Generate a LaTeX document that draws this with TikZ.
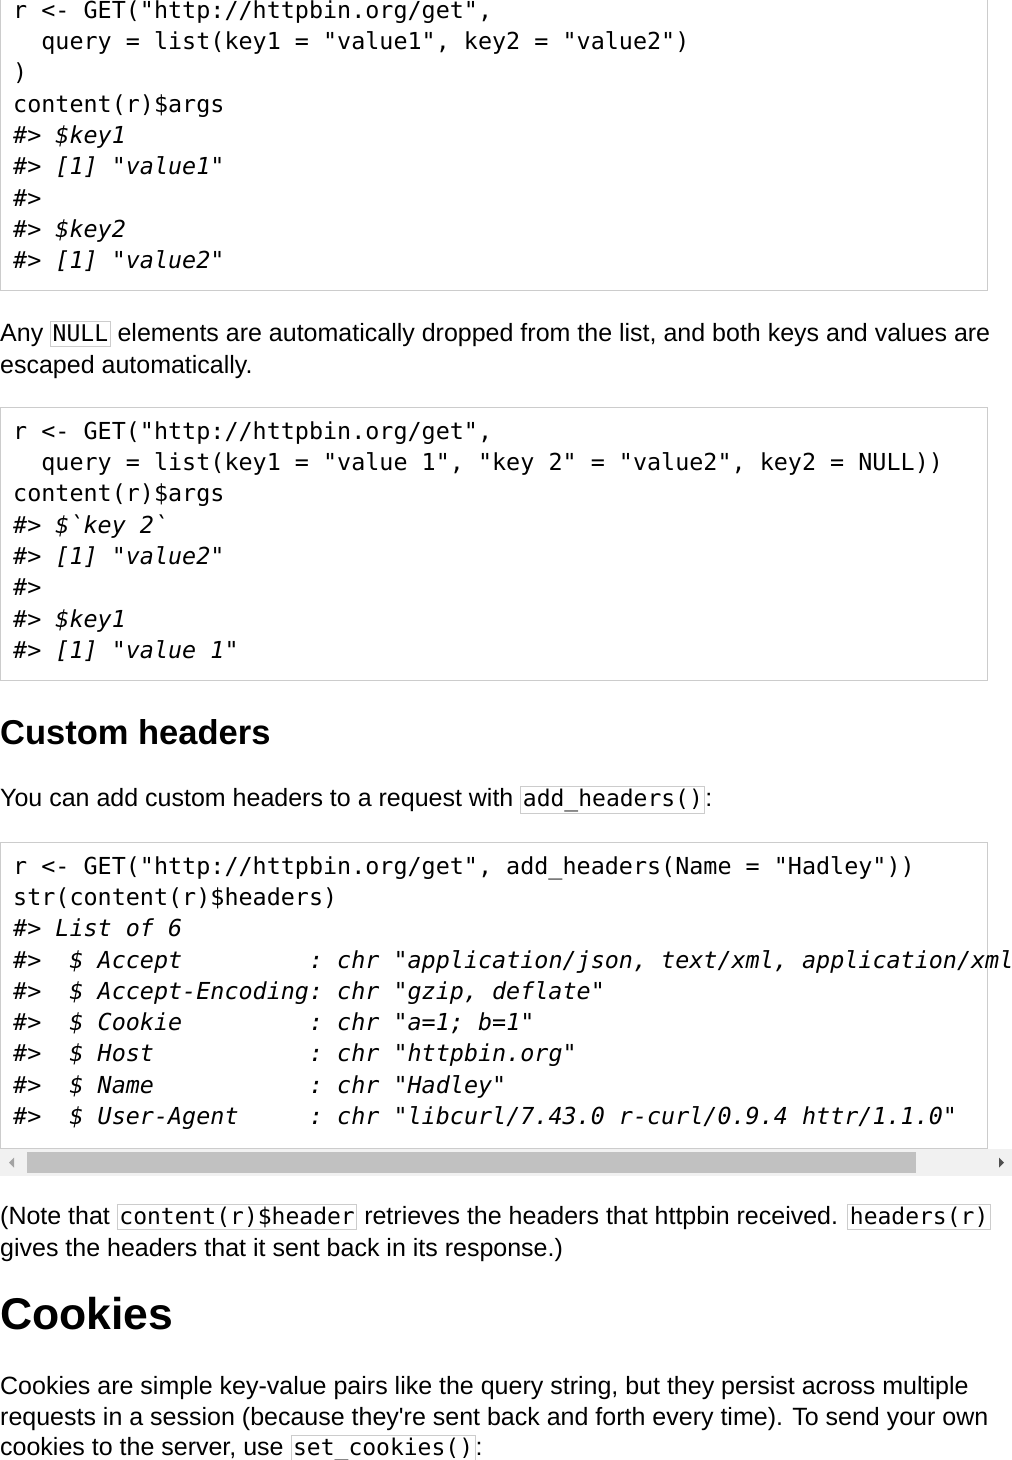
\documentclass[tikz,border=0pt]{standalone}
\usepackage{fontspec}
\setmainfont{Liberation Sans}
\newfontfamily\rawsans{Liberation Sans}
\setmonofont{DejaVu Sans Mono}
\usepackage{xcolor}
\usetikzlibrary{positioning}

\definecolor{boxgray}{HTML}{CCCCCC}
\definecolor{trackgray}{HTML}{F1F1F1}
\definecolor{thumbgray}{HTML}{C1C1C1}
\definecolor{arrowlight}{HTML}{A3A3A3}
\definecolor{arrowdark}{HTML}{505050}

\newcommand{\inl}[1]{{\setlength{\fboxsep}{1.5pt}\setlength{\fboxrule}{1pt}%
\fcolorbox{boxgray}{white}{\ttfamily\fontsize{23}{26}\selectfont\vphantom{()}#1}}}

\tikzset{
  codebox/.style={draw=boxgray, line width=1pt, fill=white},
  codeline/.style={anchor=base west, inner sep=0pt, font=\ttfamily\fontsize{23.4}{27}\selectfont},
  outline/.style={anchor=base west, inner sep=0pt, font=\ttfamily\itshape\fontsize{23.4}{27}\selectfont},
  txt/.style={anchor=base west, inner sep=0pt, font=\rawsans\fontsize{25}{30}\selectfont},
  headtwo/.style={anchor=base west, inner sep=0pt, font=\rawsans\bfseries\fontsize{34.5}{38}\selectfont},
  headone/.style={anchor=base west, inner sep=0pt, font=\rawsans\bfseries\fontsize{44.5}{50}\selectfont}
}

\begin{document}
\begin{tikzpicture}[x=1pt, y=-1pt]

\useasboundingbox (0,0) rectangle (1012,1460);
\clip (0,0) rectangle (1012,1460);

% first code block
{
\draw[codebox] (0.5,-20) rectangle (987.5,290.5);

\node[codeline] (qa1) at (13,18) {r <- GET("http://httpbin.org/get",};
\node[codeline] (qa2) at (13,49) {~~query = list(key1 = "value1", key2 = "value2")};
\node[codeline] (qa3) at (13,80) {)};
\node[codeline] (qa4) at (13,112) {content(r)\$args};
\node[outline] (qa5) at (13,143) {\#> \$key1};
\node[outline] (qa6) at (13,174) {\#> [1] "value1"};
\node[outline] (qa7) at (13,206) {\#>};
\node[outline] (qa8) at (13,237) {\#> \$key2};
\node[outline] (qa9) at (13,268) {\#> [1] "value2"};
}

% text
{
\node[txt] (nulla) at (0,341) {Any \inl{NULL} elements are automatically dropped from the list, and both keys and values are};
\node[txt] (nullb) at (0,373) {escaped automatically.};
}

% second code block
{
\draw[codebox] (0.5,407.5) rectangle (987.5,680.5);

\node[codeline] (qb1) at (13,439) {r <- GET("http://httpbin.org/get",};
\node[codeline] (qb2) at (13,470) {~~query = list(key1 = "value 1", "key 2" = "value2", key2 = NULL))};
\node[codeline] (qb3) at (13,501) {content(r)\$args};
\node[outline] (qb4) at (13,533) {\#> \$`key 2`};
\node[outline] (qb5) at (13,564) {\#> [1] "value2"};
\node[outline] (qb6) at (13,595) {\#>};
\node[outline] (qb7) at (13,627) {\#> \$key1};
\node[outline] (qb8) at (13,658) {\#> [1] "value 1"};
}

% custom headers
{
\node[headtwo] (hdr) at (0,744) {Custom headers};
\node[txt] (hdrtxt) at (0,806) {You can add custom headers to a request with \inl{add\_headers()}:};
}

% third code block
{
\draw[codebox] (0.5,842.5) rectangle (987.5,1148.5);

\node[codeline] (qc1) at (13,874) {r <- GET("http://httpbin.org/get", add\_headers(Name = "Hadley"))};
\node[codeline] (qc2) at (13,905) {str(content(r)\$headers)};
\node[outline] (qc3) at (13,936) {\#> List of 6};
\node[outline] (qc4) at (13,968) {\#>~~\$ Accept~~~~~~~~~: chr "application/json, text/xml, application/xml};
\node[outline] (qc5) at (13,999) {\#>~~\$ Accept-Encoding: chr "gzip, deflate"};
\node[outline] (qc6) at (13,1030) {\#>~~\$ Cookie~~~~~~~~~: chr "a=1; b=1"};
\node[outline] (qc7) at (13,1061) {\#>~~\$ Host~~~~~~~~~~~: chr "httpbin.org"};
\node[outline] (qc8) at (13,1093) {\#>~~\$ Name~~~~~~~~~~~: chr "Hadley"};
\node[outline] (qc9) at (13,1124) {\#>~~\$ User-Agent~~~~~: chr "libcurl/7.43.0 r-curl/0.9.4 httr/1.1.0"};

% scrollbar
\fill[trackgray] (0,1149) rectangle (1012,1176);
\fill[thumbgray] (27,1152) rectangle (916,1173);
\fill[arrowlight] (9,1162.5) -- (14,1157.5) -- (14,1167.5) -- cycle;
\fill[arrowdark] (1004,1162.5) -- (999,1157.5) -- (999,1167.5) -- cycle;
}

% note
{
\node[txt] (notea) at (0,1224) {(Note that \inl{content(r)\$header} retrieves the headers that httpbin received. \inl{headers(r)}};
\node[txt] (noteb) at (0,1256) {gives the headers that it sent back in its response.)};
}

% cookies
{
\node[headone] (ck) at (0,1329) {Cookies};
\node[txt] (cka) at (0,1394) {Cookies are simple key-value pairs like the query string, but they persist across multiple};
\node[txt] (ckb) at (0,1425) {requests in a session (because they're sent back and forth every time). To send your own};
\node[txt] (ckc) at (0,1455) {cookies to the server, use \inl{set\_cookies()}:};
}

\end{tikzpicture}
\end{document}
